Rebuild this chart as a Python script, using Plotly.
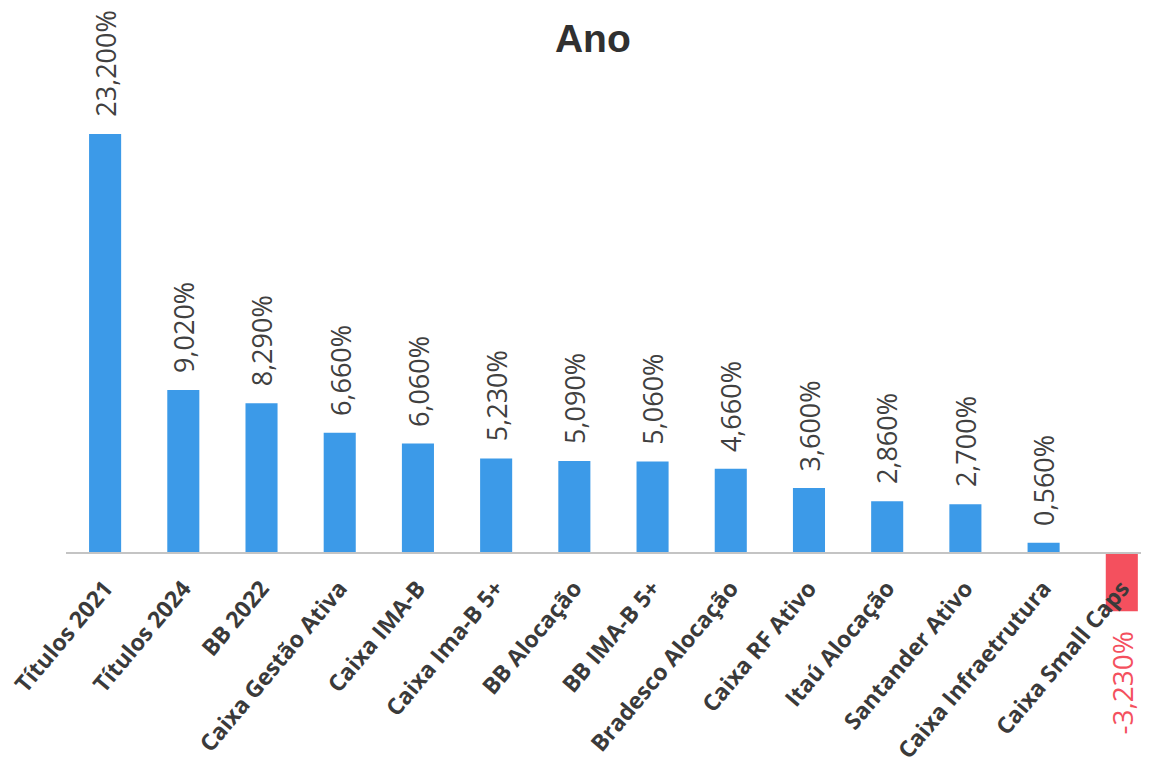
import plotly.graph_objects as go

categories = ["Títulos 2021", "Títulos 2024", "BB 2022", "Caixa Gestão Ativa", "Caixa IMA-B",
              "Caixa Ima-B 5+", "BB Alocação", "BB IMA-B 5+", "Bradesco Alocação", "Caixa RF Ativo",
              "Itaú Alocação", "Santander Ativo", "Caixa Infraetrutura", "Caixa Small Caps"]
values = [23.20, 9.02, 8.29, 6.66, 6.06, 5.23, 5.09, 5.06, 4.66, 3.60, 2.86, 2.70, 0.56, -3.23]
value_labels = ["23,200%", "9,020%", "8,290%", "6,660%", "6,060%", "5,230%", "5,090%", "5,060%",
                "4,660%", "3,600%", "2,860%", "2,700%", "0,560%", "-3,230%"]

BLUE = "#3c9ae8"
RED = "#f4505e"
colors = [BLUE if v >= 0 else RED for v in values]

y_min, y_max = -4.82, 23.98

fig = go.Figure(go.Bar(
    x=categories, y=values, marker=dict(color=colors, line=dict(width=0)),
    hoverinfo="skip",
))

for c, v, t in zip(categories, values, value_labels):
    pos = v >= 0
    fig.add_annotation(
        x=c, y=v, xref="x", yref="y", text=t, showarrow=False, textangle=-90,
        xanchor="center", yanchor="bottom" if pos else "top",
        yshift=15 if pos else -18,
        font=dict(family="Open Sans", size=27 if pos else 28, color="#404040" if pos else RED),
    )

fig.update_layout(
    width=1149, height=770,
    margin=dict(l=58, r=0, t=112, b=138, autoexpand=False),
    paper_bgcolor="white", plot_bgcolor="white",
    bargap=0.59,
    showlegend=False,
    title=dict(text="<b>Ano</b>", x=0.509, xref="container", xanchor="center",
               y=0.961, yref="container", yanchor="middle",
               font=dict(family="Liberation Sans", size=39, color="#303030")),
    xaxis=dict(
        type="category", range=[-0.5, 13.45], automargin=False,
        anchor="free", position=(0 - y_min) / (y_max - y_min),
        showline=True, linecolor="#c4c4c4", linewidth=1.5,
        showgrid=False, zeroline=False, ticks="",
        tickangle=-50, ticklabelstandoff=12,
        tickfont=dict(family="Open Sans", size=23, color="#3a3a3a", weight="bold"),
    ),
    yaxis=dict(range=[y_min, y_max], visible=False, showgrid=False, zeroline=False,
               automargin=False),
)

fig.write_html("out.html")
